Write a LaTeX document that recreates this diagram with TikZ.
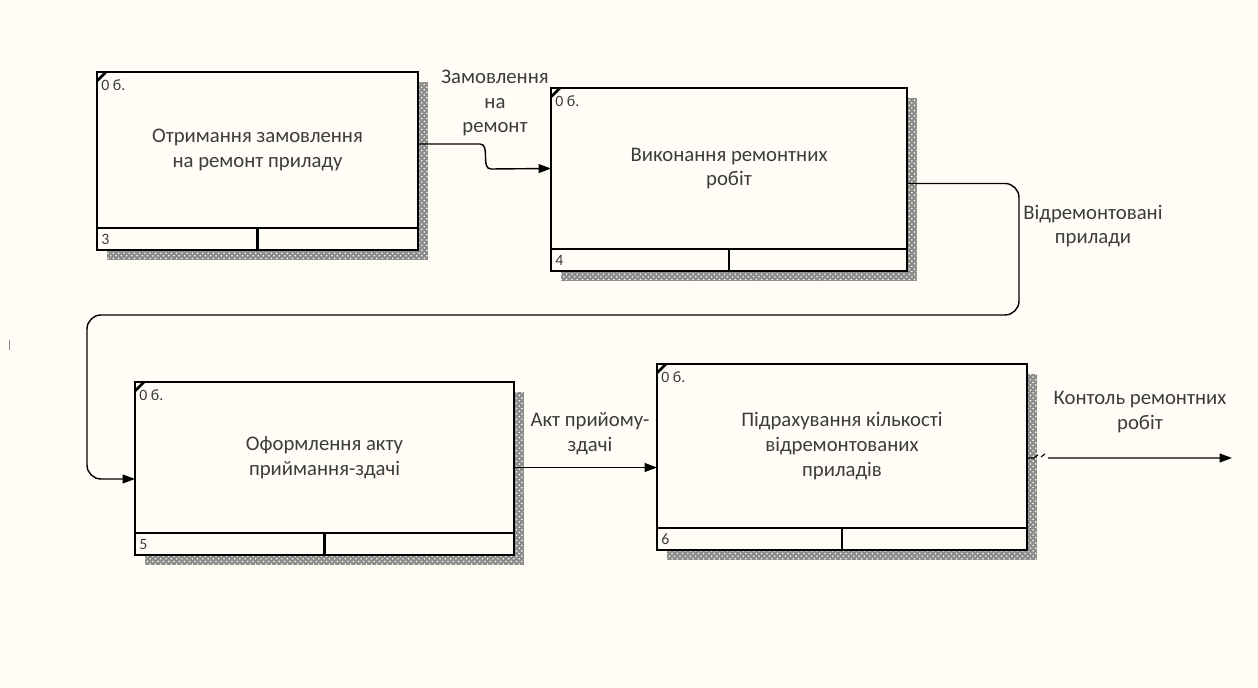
\documentclass[tikz,border=0pt]{standalone}
\usepackage{fontspec}
\setmainfont{Carlito}
\usetikzlibrary{arrows.meta,patterns}
\definecolor{paper}{HTML}{FFFDF6}
\definecolor{ink}{HTML}{3C3C3C}

\begin{document}
\begin{tikzpicture}[x=0.02cm, y=-0.02cm]
	\def\strip{22}
	\tikzstyle{activity} = [draw, line width=1.6pt, fill=paper, anchor=north west, inner sep=0pt, outer sep=0pt, align=center, text=ink, font=\fontsize{11.8}{14}\selectfont]
	\tikzstyle{shade} = [fill=black!45]
	\tikzstyle{shadedots} = [pattern=crosshatch dots, pattern color=paper]
	\tikzstyle{flow} = [line width=0.8pt, -{Triangle[length=7pt,width=5pt]}]
	\tikzstyle{lbl} = [align=center, text=ink, inner sep=0pt, font=\fontsize{11.8}{14}\selectfont]
	\tikzstyle{tag} = [inner sep=0pt, text=ink, font=\fontsize{9}{10}\selectfont]

	% page
	\fill[paper] (0,0) rectangle (1258,688);
	\useasboundingbox (0,0) rectangle (1258,688);
	\draw[ink!60, line width=0.5pt] (9,340) -- (9,350);

	% activity boxes
	\foreach \n/\bx/\by/\bw/\bh/\txt in {
			3/97/72/321/156/{Отримання замовлення\\на ремонт приладу},
			4/551/88/356/161/{Виконання ремонтних\\робіт},
			5/135/382/379/151/{Оформлення акту\\приймання-здачі},
			6/657/364/370/164/{Підрахування кількості\\відремонтованих\\приладів}}{
		\fill[shade] (\bx+10,\by+10) rectangle (\bx+\bw+10,\by+\bh+\strip+10);
		\fill[shadedots] (\bx+10,\by+10) rectangle (\bx+\bw+10,\by+\bh+\strip+10);
		\node[activity, minimum width=\bw*0.02cm, minimum height=\bh*0.02cm] (act-\n) at (\bx,\by) {\txt};
		\draw[line width=1.6pt, fill=paper] (act-\n.south west) rectangle ++(\bw,\strip);
		\draw[line width=1.6pt] (act-\n.south) -- ++(0,\strip);
		\draw[line width=1.6pt] ([yshift=-0.18cm]act-\n.north west) -- ([xshift=0.18cm]act-\n.north west);
		\node[tag, anchor=north west] (cost-\n) at ([xshift=0.08cm,yshift=-0.14cm]act-\n.north west) {0 б.};
		\node[tag, anchor=west] (num-\n) at ([xshift=0.08cm,yshift=-0.22cm]act-\n.south west) {\n};
	}

	% order -> repair
	\draw[flow] ([yshift=0.12cm]act-3.east) -- ++(62,0) to[out=0,in=180] ++(11,25) -- (act-4.west);

	% repair -> acceptance
	\coordinate (bend-r) at (1019,315);
	\coordinate (bend-l) at (87,479);
	\draw[flow, rounded corners=8] ([yshift=-0.3cm]act-4.east) -| (bend-r) -| (bend-l) -- (bend-l -| act-5.west);

	% acceptance -> counting
	\coordinate (hand-off) at ([yshift=-0.2cm]act-5.east);
	\draw[flow] (hand-off) -- (hand-off -| act-6.west);

	% output
	\coordinate (ctrl-out) at (1232,458);
	\draw[line width=0.6pt] ([yshift=-0.24cm]act-6.east) -- ++(7,0) -- ++(4,-3) ++(3,2) -- ++(4,-3);
	\draw[flow] ([xshift=0.42cm,yshift=-0.24cm]act-6.east) -- (ctrl-out);

	% annotations
	\node[lbl] (lbl-order) at (495,103) {Замовлення\\на\\ремонт};
	\node[lbl] (lbl-fixed) at (1093,226) {Відремонтовані\\прилади};
	\node[lbl] (lbl-act) at (590,434) {Акт прийому-\\здачі};
	\node[lbl] (lbl-ctrl) at (1140,412) {Контоль ремонтних\\робіт};
\end{tikzpicture}
\end{document}
